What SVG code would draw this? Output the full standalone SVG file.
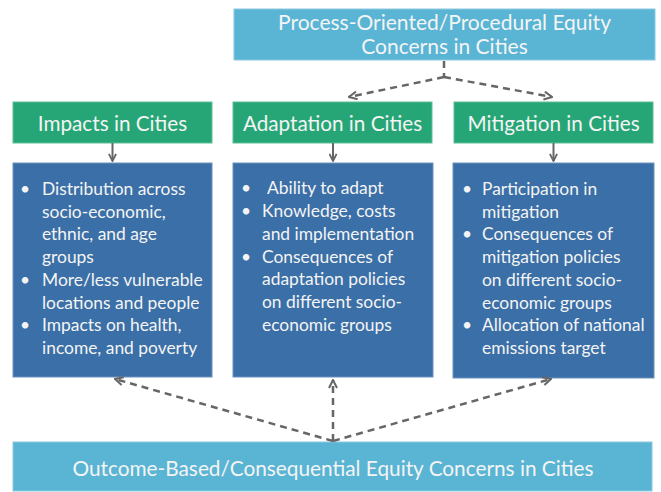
<svg xmlns="http://www.w3.org/2000/svg" width="661" height="492" viewBox="0 0 661 492">
<defs>
<marker id="chev" viewBox="0 0 10 10" refX="9" refY="5" markerWidth="10" markerHeight="10" markerUnits="userSpaceOnUse" orient="auto">
<path d="M1,1 L9,5 L1,9" fill="none" stroke="#666" stroke-width="2" stroke-dasharray="none"/>
</marker>
<marker id="tri" viewBox="0 0 10 10" refX="9" refY="5" markerWidth="9" markerHeight="9" markerUnits="userSpaceOnUse" orient="auto">
<path d="M1,1 L9,5 L1,9" fill="none" stroke="#666" stroke-width="2"/>
</marker>
</defs>
<style>
.lb{fill:#5AB5D5;stroke:#8cc9e0;stroke-width:1}
.gr{fill:#26A676;stroke:#5cbf97;stroke-width:1}
.bl{fill:#3B6FA7;stroke:#6d93bd;stroke-width:1}
.t{font-family:Lato,"Open Sans",sans-serif;fill:#F4F4F4}
.title{font-size:20.7px;text-anchor:middle}
.body{font-size:17.4px}
.dash{fill:none;stroke:#666;stroke-width:2.5;stroke-dasharray:7,5}
.solid{fill:none;stroke:#666;stroke-width:2}
</style>
<rect width="661" height="492" fill="#ffffff"/>

<g id="process">
<rect class="lb" x="234" y="9" width="421" height="51"/>
<text class="t title" x="444.5" y="30" style="font-size:21px">Process-Oriented/Procedural Equity</text>
<text class="t title" x="444.5" y="54" style="font-size:21px">Concerns in Cities</text>
</g>

<g id="impacts">
<rect class="gr" x="13" y="102" width="199" height="41"/>
<text class="t title" x="112.5" y="131">Impacts in Cities</text>
</g>
<g id="adaptation">
<rect class="gr" x="233" y="102" width="199" height="41"/>
<text class="t title" x="332.5" y="131">Adaptation in Cities</text>
</g>
<g id="mitigation">
<rect class="gr" x="454" y="102" width="199" height="41"/>
<text class="t title" x="553.5" y="131">Mitigation in Cities</text>
</g>

<g id="impacts-details">
<rect class="bl" x="13" y="163" width="199" height="214"/>
<g class="t body">
<text x="20" y="195">•</text>
<text x="42" y="195">Distribution across</text>
<text x="42" y="217.7">socio-economic,</text>
<text x="42" y="240.4">ethnic, and age</text>
<text x="42" y="263.1">groups</text>
<text x="20" y="285.8">•</text>
<text x="42" y="285.8">More/less vulnerable</text>
<text x="42" y="308.5">locations and people</text>
<text x="20" y="331.2">•</text>
<text x="42" y="331.2">Impacts on health,</text>
<text x="42" y="353.9">income, and poverty</text>
</g>
</g>

<g id="adaptation-details">
<rect class="bl" x="233" y="163" width="200" height="214"/>
<g class="t body">
<text x="241" y="194">•</text>
<text x="267" y="194">Ability to adapt</text>
<text x="241" y="217">•</text>
<text x="262" y="217">Knowledge, costs</text>
<text x="262" y="239.8">and implementation</text>
<text x="241" y="262.6">•</text>
<text x="262" y="262.6">Consequences of</text>
<text x="262" y="285.4">adaptation policies</text>
<text x="262" y="308.2">on different socio-</text>
<text x="262" y="331">economic groups</text>
</g>
</g>

<g id="mitigation-details">
<rect class="bl" x="453" y="163" width="201" height="215"/>
<g class="t body">
<text x="462" y="195">•</text>
<text x="482" y="195">Participation in</text>
<text x="482" y="217.7">mitigation</text>
<text x="462" y="240.4">•</text>
<text x="482" y="240.4">Consequences of</text>
<text x="482" y="263.1">mitigation policies</text>
<text x="482" y="285.8">on different socio-</text>
<text x="482" y="308.5">economic groups</text>
<text x="462" y="331.2">•</text>
<text x="482" y="331.2">Allocation of national</text>
<text x="482" y="353.9">emissions target</text>
</g>
</g>

<g id="outcome">
<rect class="lb" x="13" y="442" width="639" height="49"/>
<text class="t title" x="333" y="476" style="font-size:20.8px">Outcome-Based/Consequential Equity Concerns in Cities</text>
</g>

<g id="connectors">
<path class="dash" d="M444,61 L444,77"/>
<path class="dash" d="M444,77 L349,97" marker-end="url(#chev)"/>
<path class="dash" d="M444,77 L552,97" marker-end="url(#chev)"/>
<path class="solid" d="M112.5,143 L112.5,161" marker-end="url(#tri)"/>
<path class="solid" d="M333,143 L333,161" marker-end="url(#tri)"/>
<path class="solid" d="M553.5,143 L553.5,161" marker-end="url(#tri)"/>
<path class="dash" d="M333,441 L115,379" marker-end="url(#chev)"/>
<path class="dash" d="M333,441 L333,380" marker-end="url(#chev)"/>
<path class="dash" d="M333,441 L551,379" marker-end="url(#chev)"/>
</g>
</svg>
